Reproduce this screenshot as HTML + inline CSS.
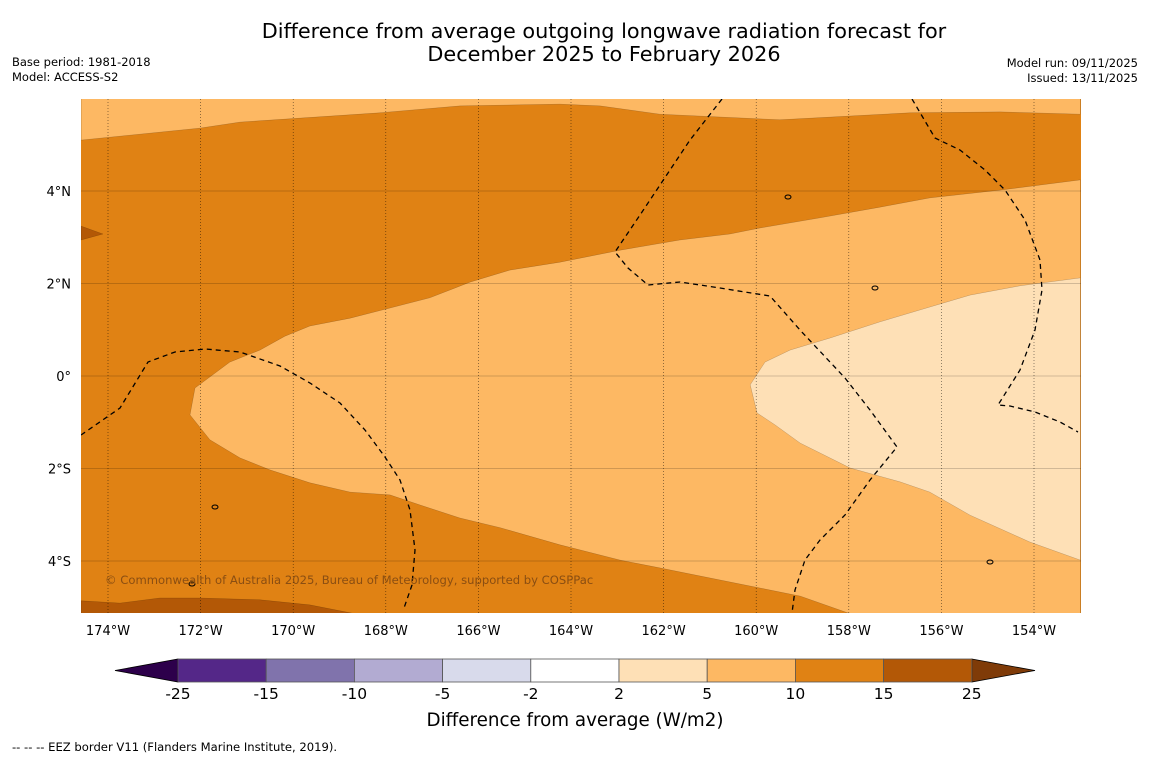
<!DOCTYPE html>
<html><head><meta charset="utf-8">
<style>
body{margin:0;background:#fff;width:1150px;height:758px;overflow:hidden;font-family:"DejaVu Sans","Liberation Sans",sans-serif;}
svg{display:block}
</style></head>
<body>
<svg id="chart" width="1150" height="758" viewBox="0 0 1150 758" xmlns="http://www.w3.org/2000/svg" font-family="DejaVu Sans, Liberation Sans, sans-serif">
<text x="604" y="38" font-size="20.8" text-anchor="middle">Difference from average outgoing longwave radiation forecast for</text>
<text x="604" y="61" font-size="20.8" text-anchor="middle">December 2025 to February 2026</text>
<text x="12" y="66" font-size="11.5">Base period: 1981-2018</text>
<text x="12" y="81" font-size="11.5">Model: ACCESS-S2</text>
<text x="1138" y="67" font-size="11.5" text-anchor="end">Model run: 09/11/2025</text>
<text x="1138" y="82" font-size="11.5" text-anchor="end">Issued: 13/11/2025</text>
<g id="map"></g>
<g id="cbar"></g>
<text x="575" y="726" font-size="18.3" text-anchor="middle">Difference from average (W/m2)</text>
<text x="12" y="751" font-size="11.6">--  --  -- EEZ border V11 (Flanders Marine Institute, 2019).</text>
</svg>
<script>
// ---- data ----
const lonTicks = [-174,-172,-170,-168,-166,-164,-162,-160,-158,-156,-154];
const lonLabels = ["174°W","172°W","170°W","168°W","166°W","164°W","162°W","160°W","158°W","156°W","154°W"];
const latTicks = [4,2,0,-2,-4];
const latLabels = ["4°N","2°N","0°","2°S","4°S"];
const levelLabels = ["-25","-15","-10","-5","-2","2","5","10","15","25"];
const levelColors = ["#542788","#8073ac","#b2abd2","#d8daeb","#ffffff","#fee0b6","#fdb863","#e08214","#b35806"];
// contour polygons [lon, lat]
const contourTop = [[-174.58,6.0],[-174.58,5.10],[-172.01,5.36],[-171.15,5.49],[-168.13,5.69],[-166.40,5.84],[-164.24,5.88],[-163.37,5.84],[-162.08,5.66],[-159.49,5.54],[-156.68,5.69],[-154.73,5.71],[-153.0,5.66],[-153.0,6.0]];
const contourWedge = [[-174.58,3.24],[-174.11,3.07],[-174.58,2.94]];
const contourBottom = [[-174.58,-4.86],[-173.74,-4.91],[-172.88,-4.80],[-172.01,-4.80],[-170.72,-4.84],[-169.64,-4.95],[-168.67,-5.14],[-174.58,-5.14]];
const contour5to10 = [[-153.0,4.24],[-154.73,4.02],[-156.25,3.85],[-157.33,3.65],[-158.62,3.42],[-159.92,3.20],[-160.57,3.07],[-161.65,2.94],[-162.94,2.72],[-164.24,2.46],[-165.32,2.29],[-166.18,2.03],[-166.51,1.90],[-167.05,1.69],[-167.91,1.47],[-168.77,1.25],[-169.64,1.08],[-170.18,0.86],[-170.72,0.56],[-171.37,0.30],[-172.12,-0.26],[-172.23,-0.84],[-171.80,-1.38],[-171.15,-1.77],[-170.50,-2.03],[-169.64,-2.31],[-168.77,-2.51],[-167.91,-2.57],[-167.26,-2.79],[-166.40,-3.07],[-165.53,-3.28],[-164.24,-3.65],[-162.94,-3.98],[-162.08,-4.15],[-160.78,-4.41],[-159.05,-4.76],[-157.97,-5.14],[-153.0,-5.14]];
const contour2to5 = [[-153.0,2.12],[-154.30,1.95],[-155.38,1.75],[-156.46,1.43],[-157.33,1.17],[-158.41,0.82],[-159.27,0.56],[-159.81,0.30],[-160.13,-0.19],[-159.98,-0.80],[-159.59,-1.06],[-159.05,-1.45],[-157.97,-1.99],[-156.89,-2.29],[-156.25,-2.51],[-155.38,-3.01],[-154.09,-3.59],[-153.0,-3.98]];

const NS='http://www.w3.org/2000/svg';
const X0=81,X1=1081,Y0=99,Y1=613;
function xs(lon){return 108+(lon+174)*46.3;}
function ys(lat){return 191-(lat-4)*46.25;}
function mk(tag,attrs,parent){const e=document.createElementNS(NS,tag);for(const k in attrs)e.setAttribute(k,attrs[k]);parent.appendChild(e);return e;}
const map=document.getElementById('map');
const clip=mk('clipPath',{id:'mc'},map);mk('rect',{x:X0,y:Y0,width:X1-X0,height:Y1-Y0},clip);
const g=mk('g',{'clip-path':'url(#mc)'},map);
let bg=mk('rect',{x:X0,y:Y0,width:X1-X0,height:Y1-Y0,fill:levelColors[7]},g);


function poly(pts,fill,name){const p=mk('polygon',{points:pts.map(d=>xs(d[0]).toFixed(1)+','+ys(d[1]).toFixed(1)).join(' '),fill:fill,stroke:'rgba(0,0,0,0.25)','stroke-width':0.5},g);

}
poly(contourTop,levelColors[6],'contour-top-5-10');
poly(contourWedge,levelColors[8],'contour-wedge-15-25');
poly(contourBottom,levelColors[8],'contour-bottom-15-25');
poly(contour5to10,levelColors[6],'contour-5-10');
poly(contour2to5,levelColors[5],'contour-2-5');
// grid
lonTicks.forEach((lon,i)=>{const l=mk('line',{x1:xs(lon),x2:xs(lon),y1:Y0,y2:Y1,stroke:'#000','stroke-width':0.6,'stroke-dasharray':'1,2',opacity:0.7},g);


const t=mk('text',{x:xs(lon),y:635,'font-size':13,'text-anchor':'middle'},map);t.textContent=lonLabels[i];

});
latTicks.forEach((lat,i)=>{const l=mk('line',{x1:X0,x2:X1,y1:ys(lat),y2:ys(lat),stroke:'#000','stroke-width':0.6,opacity:0.35},g);


const t=mk('text',{x:71,y:ys(lat)+5,'font-size':13,'text-anchor':'end'},map);t.textContent=latLabels[i];

});
// EEZ borders
const eez=["M81,435 L120,408 L148,362 L175,352 L205,349 L240,352 L280,366 L310,383 L340,403 L365,430 L385,457 L400,480 L410,510 L415,550 L412,585 L404,608",
"M722,99 L690,140 L660,185 L640,215 L615,252 L628,268 L648,285 L680,282 L720,288 L770,296 L800,330 L845,378 L870,410 L897,447 L870,480 L845,515 L820,540 L805,560 L795,590 L792,613",
"M912,99 L935,138 L960,150 L985,170 L1005,190 L1025,220 L1040,260 L1042,290 L1035,330 L1020,370 L998,405 L1010,406 L1035,412 L1060,422 L1078,432"];
eez.forEach(d=>{const p=mk('path',{d:d,fill:'none',stroke:'#000','stroke-width':1.3,'stroke-dasharray':'5,4'},g);

});
// islands
[[788,197],[875,288],[215,507],[192,584],[990,562]].forEach(c=>{const e=mk('ellipse',{cx:c[0],cy:c[1],rx:3,ry:2,fill:'none',stroke:'#000','stroke-width':1},g);

});
const cp=mk('text',{x:105,y:584,'font-size':11.6,fill:'#8a4e12'},g);cp.textContent='© Commonwealth of Australia 2025, Bureau of Meteorology, supported by COSPPac';


// colorbar
const cb=document.getElementById('cbar');
const cx0=178,bw=88.2,cy=659,ch=23;
let tl=mk('polygon',{points:`115,670.5 ${cx0},${cy} ${cx0},${cy+ch}`,fill:'#2d004b',stroke:'#000','stroke-width':0.8},cb);


const xEnd=cx0+bw*levelColors.length;
let tr=mk('polygon',{points:`${xEnd},${cy} 1035,670.5 ${xEnd},${cy+ch}`,fill:'#7f3b08',stroke:'#000','stroke-width':0.8},cb);


levelColors.forEach((c,i)=>{const r=mk('rect',{x:cx0+i*bw,y:cy,width:bw,height:ch,fill:c,stroke:'#555','stroke-width':0.8},cb);

});
levelLabels.forEach((s,i)=>{const t=mk('text',{x:cx0+i*bw,y:699,'font-size':15.5,'text-anchor':'middle'},cb);t.textContent=s;

});
</script>
</body></html>
